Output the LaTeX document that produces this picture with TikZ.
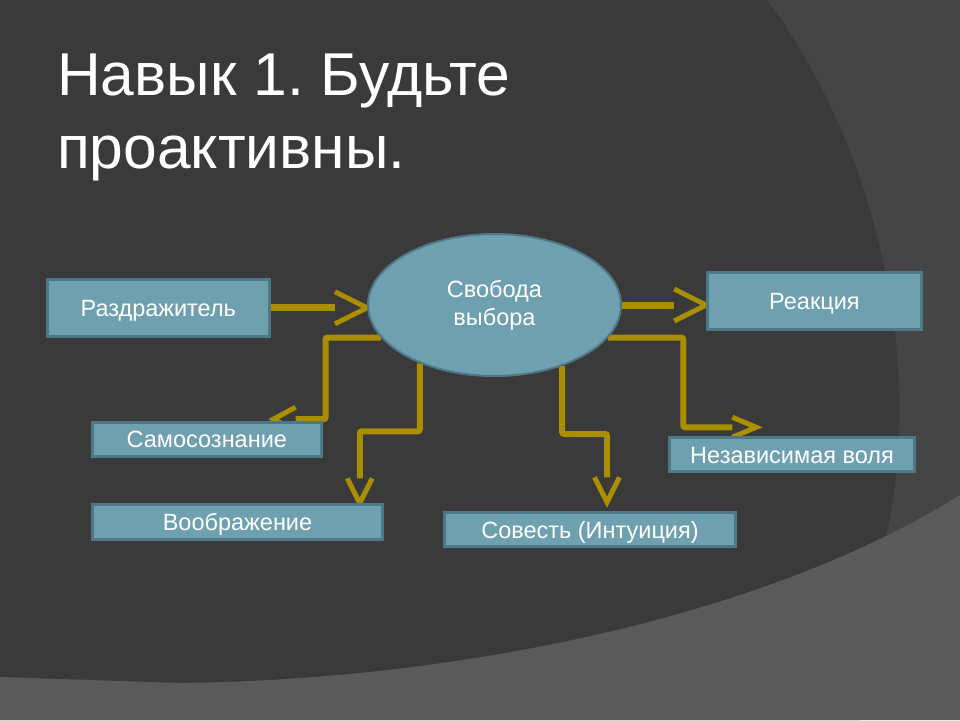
\documentclass[tikz,border=0pt]{standalone}
\usepackage{fontspec}
\setmainfont{Liberation Sans}
\usetikzlibrary{shapes.geometric,arrows.meta}
\frenchspacing

\definecolor{fonsred}{RGB}{69,69,69}
\definecolor{fontemn}{RGB}{58,58,58}
\definecolor{fonsvet}{RGB}{90,90,90}
\definecolor{blokfon}{RGB}{111,160,176}
\definecolor{blokkrai}{RGB}{78,120,136}
\definecolor{strelka}{RGB}{168,142,0}

\pgfdeclarelayer{fon}
\pgfdeclarelayer{svyazi}
\pgfsetlayers{fon,svyazi,main}

% уголок без заливки, линия обрывается у его основания
\pgfdeclarearrow{
	name = Ugolok,
	parameters = {\the\pgfarrowlength,\the\pgfarrowwidth},
	setup code = {
		\pgfarrowssettipend{0pt}
		\pgfarrowssetlineend{-\pgfarrowlength}
		\pgfarrowssetvisualbackend{-\pgfarrowlength}
		\pgfarrowssetbackend{-\pgfarrowlength}
		\pgfarrowshullpoint{0pt}{0pt}
		\pgfarrowsupperhullpoint{-\pgfarrowlength}{.5\pgfarrowwidth}
		\pgfarrowssavethe\pgfarrowlength
		\pgfarrowssavethe\pgfarrowwidth
	},
	drawing code = {
		\pgfsetlinewidth{5pt}
		\pgfsetmiterjoin
		\pgfpathmoveto{\pgfpoint{-\pgfarrowlength}{.5\pgfarrowwidth}}
		\pgfpathlineto{\pgfpointorigin}
		\pgfpathlineto{\pgfpoint{-\pgfarrowlength}{-.5\pgfarrowwidth}}
		\pgfusepathqstroke
	},
	defaults = {length=25pt, width=25pt}
}

\tikzset{
	blok/.style={rectangle, draw=blokkrai, fill=blokfon, line width=2.5pt, text=white, inner sep=0pt, text height=17pt, text depth=0pt, font=\fontsize{23.5}{28}\selectfont},
	svyaz/.style={draw=strelka, line width=6pt, rounded corners=2pt, -{Ugolok}},
	zagolovok/.style={text=white, inner sep=0pt, anchor=base west, font=\fontsize{60.5}{72}\selectfont}
}

\begin{document}
\begin{tikzpicture}[x=1pt, y=-1pt]
		\useasboundingbox ( 0, 0 ) rectangle ( 960, 720 );

		% фон слайда
		\begin{pgfonlayer}{fon}
			\fill [fonsred] ( 0, 0 ) rectangle ( 960, 720 );
			\fill [fontemn] ( 0, 0 ) -- ( 767, 0 ) .. controls ( 880, 150 ) and ( 930, 380 ) .. ( 880, 560 ) -- ( 860, 720 ) -- ( 0, 720 ) -- cycle;
			\fill [fonsvet] ( 0, 677 ) -- ( 180, 683 ) .. controls ( 450, 680 ) and ( 760, 620 ) .. ( 960, 495 ) -- ( 960, 720 ) -- ( 0, 720 ) -- cycle;
		\end{pgfonlayer}

		% заголовок
		\node [zagolovok] (zag1) at ( 57, 95 ) {Навык 1. Будьте};
		\node [zagolovok] (zag2) at ( 57, 168 ) {проактивны.};

		% блоки
		\node [ellipse, draw=blokkrai, fill=blokfon, line width=2pt, text=white, inner sep=0pt, minimum width=253pt, minimum height=142pt, align=center, font=\fontsize{23.5}{28}\selectfont] (svoboda) at ( 494.5, 305 ) {Свобода\\выбора};
		\node [blok, minimum width=222pt, minimum height=57pt] (razdr) at ( 158.3, 307.8 ) {Раздражитель};
		\node [blok, minimum width=214pt, minimum height=57pt] (reakc) at ( 814.4, 301 ) {Реакция};
		\node [blok, minimum width=229pt, minimum height=34pt] (samos) at ( 206.8, 439.4 ) {Самосознание};
		\node [blok, minimum width=290pt, minimum height=35pt] (voobr) at ( 237.5, 522 ) {Воображение};
		\node [blok, minimum width=291pt, minimum height=34pt] (sovest) at ( 590, 529.5 ) {Совесть (Интуиция)};
		\node [blok, minimum width=245pt, minimum height=34pt] (volya) at ( 792, 454.5 ) {Независимая воля};

		% связи
		\begin{pgfonlayer}{svyazi}
			\draw [svyaz, line width=7pt, -{Ugolok[length=32pt,width=32pt]}] (razdr.east) -- (razdr.east -| svoboda.west);
			\draw [svyaz, line width=7pt, -{Ugolok[length=32pt,width=32pt]}] (svoboda.east) -- (svoboda.east -| reakc.west);
			\draw [svyaz, -{Ugolok[length=22pt,width=24pt]}] (svoboda.196) -| ([xshift=3pt,yshift=2pt]samos.north east) -- ++(-52pt,0);
			\draw [svyaz] (svoboda.218) -- ++( 0, 68 ) -| ([xshift=-24pt]voobr.north east);
			\draw [svyaz] (svoboda.-42) -- ++( 0, 68 ) -| ([xshift=17pt,yshift=9pt]sovest.north);
			\draw [svyaz, -{Ugolok[length=24pt,width=20pt]}] (svoboda.-16) -| ([xshift=15pt,yshift=9pt]volya.north west) -- ++(73pt,0);
		\end{pgfonlayer}
\end{tikzpicture}
\end{document}
